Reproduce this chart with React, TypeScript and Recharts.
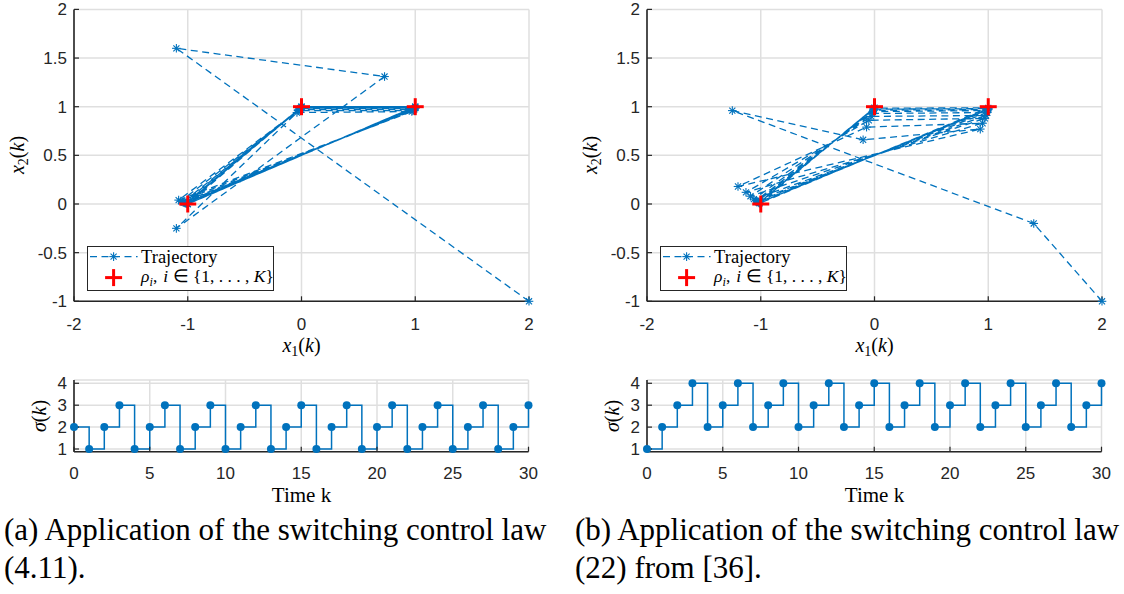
import React from 'react';
import { ScatterChart, Scatter, XAxis, YAxis, CartesianGrid, LineChart, Line } from 'recharts';

const BLUE = '#0072BD';
const RED = '#FF0000';
const FRAME = '#262626';
const GRID = '#dfdfdf';
const SERIF = '"Liberation Serif", "Times New Roman", serif';
const SANS = '"Liberation Sans", Arial, Helvetica, sans-serif';

// tick labels
const stateTicksX = [-2, -1, 0, 1, 2];
const stateTicksY = [-1, -0.5, 0, 0.5, 1, 1.5, 2];
const timeTicks = [0, 5, 10, 15, 20, 25, 30];
const modeTicks = [1, 2, 3, 4];

// (a) trajectory under control law (4.11)
const trajA_x1 = [2, -1.1, 0.73, -1.1, -0.04, 0.97, -1.08, -0.03, 0.98, -1.06, -0.02, 0.99, -1.04, -0.01, 0.99, -1.03, -0.01, 1, -1.02, 0, 1, -1.01, 0, 1, -1.01, 0, 1, -1, 0, 1, -1];
const trajA_x2 = [-1, 1.6, 1.31, -0.25, 0.94, 0.95, 0.04, 0.96, 0.96, 0.03, 0.97, 0.97, 0.02, 0.98, 0.98, 0.015, 0.985, 0.985, 0.01, 0.99, 0.99, 0.01, 0.99, 0.99, 0.005, 1, 1, 0, 1, 1, 0];

// (b) trajectory under control law (22) from [36]
const trajB_x1 = [2, 1.4, -1.25, -0.1, 0.93, -1.2, -0.07, 0.95, -1.13, -0.05, 0.97, -1.09, -0.03, 0.98, -1.06, -0.02, 0.99, -1.04, -0.015, 0.99, -1.03, -0.01, 1, -1.02, -0.007, 1, -1.015, -0.005, 1, -1.01, 0];
const trajB_x2 = [-1, -0.2, 0.96, 0.66, 0.77, 0.18, 0.79, 0.83, 0.12, 0.86, 0.88, 0.08, 0.9, 0.91, 0.05, 0.93, 0.94, 0.035, 0.95, 0.96, 0.025, 0.965, 0.97, 0.018, 0.975, 0.98, 0.012, 0.985, 0.988, 0.008, 0.99];

// reference points rho_i
const rhoX1 = [-1, 0, 1];
const rhoX2 = [0, 1, 1];

// switching signals sigma(k), k = 0..30
const sigmaA = [2, 1, 2, 3, 1, 2, 3, 1, 2, 3, 1, 2, 3, 1, 2, 3, 1, 2, 3, 1, 2, 3, 1, 2, 3, 1, 2, 3, 1, 2, 3];
const sigmaB = [1, 2, 3, 4, 2, 3, 4, 2, 3, 4, 2, 3, 4, 2, 3, 4, 2, 3, 4, 2, 3, 4, 2, 3, 4, 2, 3, 4, 2, 3, 4];

const toPoints = (xs: number[], ys: number[]) => xs.map((x, i) => ({ x, y: ys[i] }));
const toSteps = (s: number[]) => s.map((v, k) => ({ k, s: v }));

const tickStyle = { fill: FRAME, fontSize: 17, fontFamily: SANS };
const axisLineStyle = { stroke: FRAME, strokeWidth: 1.6 };
const tickLineStyle = { stroke: FRAME, strokeWidth: 1.2 };

const Asterisk = (props: any) => {
  const { cx, cy } = props;
  if (cx == null || cy == null) return null;
  const r = 4.3;
  const d = r * 0.7071;
  return (
    <g stroke={BLUE} strokeWidth={1.1}>
      <line x1={cx - r} y1={cy} x2={cx + r} y2={cy} />
      <line x1={cx} y1={cy - r} x2={cx} y2={cy + r} />
      <line x1={cx - d} y1={cy - d} x2={cx + d} y2={cy + d} />
      <line x1={cx - d} y1={cy + d} x2={cx + d} y2={cy - d} />
    </g>
  );
};

const Cross = (props: any) => {
  const { cx, cy } = props;
  if (cx == null || cy == null) return null;
  const r = 8.5;
  return (
    <g stroke={RED} strokeWidth={3}>
      <line x1={cx - r} y1={cy} x2={cx + r} y2={cy} />
      <line x1={cx} y1={cy - r} x2={cx} y2={cy + r} />
    </g>
  );
};

const StateChart = ({ xs, ys }: { xs: number[]; ys: number[] }) => (
  <ScatterChart width={545} height={345} margin={{ top: 9.4, right: 16, left: 0, bottom: 0 }}>
    <CartesianGrid stroke={GRID} strokeWidth={1.5} />
    <XAxis type="number" dataKey="x" domain={[-2, 2]} ticks={stateTicksX} interval={0} height={43.7}
      tickSize={-5} tickMargin={21.7} axisLine={axisLineStyle} tickLine={tickLineStyle} tick={tickStyle} />
    <XAxis xAxisId="top" orientation="top" type="number" domain={[-2, 2]} ticks={stateTicksX} interval={0}
      height={0} tickSize={-5} tick={false} allowDataOverflow axisLine={axisLineStyle} tickLine={tickLineStyle} />
    <YAxis type="number" dataKey="y" domain={[-1, 2]} ticks={stateTicksY} interval={0} width={74}
      tickSize={-5} tickMargin={12} axisLine={axisLineStyle} tickLine={tickLineStyle} tick={tickStyle} />
    <YAxis yAxisId="right" orientation="right" type="number" domain={[-1, 2]} ticks={stateTicksY} interval={0}
      width={0} tickSize={-5} tick={false} allowDataOverflow axisLine={axisLineStyle} tickLine={tickLineStyle} />
    <Scatter data={toPoints(xs, ys)} fill={BLUE} shape={Asterisk} lineType="joint"
      line={{ stroke: BLUE, strokeWidth: 1.3, strokeDasharray: '7 4.5', fill: 'none' }} isAnimationActive={false} />
    <Scatter data={toPoints(rhoX1, rhoX2)} fill={RED} shape={Cross} isAnimationActive={false} />
  </ScatterChart>
);

const ModeChart = ({ s }: { s: number[] }) => (
  <LineChart width={545} height={120} data={toSteps(s)} margin={{ top: 10, right: 16.5, left: 0, bottom: 0 }}>
    <CartesianGrid stroke={GRID} strokeWidth={1.5} />
    <XAxis type="number" dataKey="k" domain={[0, 30]} ticks={timeTicks} interval={0} height={38.3}
      tickSize={-5} tickMargin={20} axisLine={axisLineStyle} tickLine={tickLineStyle} tick={tickStyle} />
    <XAxis xAxisId="top" orientation="top" type="number" domain={[0, 30]} ticks={timeTicks} interval={0}
      height={0} tickSize={-5} tick={false} allowDataOverflow axisLine={axisLineStyle} tickLine={tickLineStyle} />
    <YAxis type="number" domain={[0.877, 4.15]} ticks={modeTicks} interval={0} width={74}
      tickSize={-5} tickMargin={12} axisLine={axisLineStyle} tickLine={tickLineStyle} tick={tickStyle} />
    <YAxis yAxisId="right" orientation="right" type="number" domain={[0.877, 4.15]} ticks={modeTicks} interval={0}
      width={0} tickSize={-5} tick={false} allowDataOverflow axisLine={axisLineStyle} tickLine={tickLineStyle} />
    <Line type="stepAfter" dataKey="s" stroke={BLUE} strokeWidth={1.5}
      dot={{ r: 4, fill: BLUE, stroke: BLUE, strokeWidth: 0 }} activeDot={false} isAnimationActive={false} />
  </LineChart>
);

const center = (left: number, top: number, rotate = false): React.CSSProperties => ({
  position: 'absolute', left, top, whiteSpace: 'nowrap', lineHeight: 1,
  transform: rotate ? 'translate(-50%, -50%) rotate(-90deg)' : 'translate(-50%, -50%)',
  fontFamily: SERIF, color: '#000',
});

const Sub = ({ children, italic = false }: { children: React.ReactNode; italic?: boolean }) => (
  <span style={{ fontSize: '0.7em', verticalAlign: '-0.3em', fontStyle: italic ? 'italic' : 'normal' }}>{children}</span>
);

const Legend = ({ left, top }: { left: number; top: number }) => (
  <div style={{ position: 'absolute', left, top, width: 187.3, height: 45, boxSizing: 'border-box',
    border: `1.6px solid ${FRAME}`, background: '#fff' }}>
    <svg width={187} height={45} style={{ position: 'absolute', left: -1.6, top: -1.6 }}>
      <line x1={4} y1={11.6} x2={51.6} y2={11.6} stroke={BLUE} strokeWidth={1.3} strokeDasharray="7 4.5" />
      <Asterisk cx={27.6} cy={11.6} />
      <Cross cx={27.6} cy={32.6} />
    </svg>
    <div style={{ position: 'absolute', left: 53.4, top: 11.6 - 1.6, transform: 'translateY(-50%)', fontFamily: SERIF,
      fontSize: 18.5, lineHeight: 1, whiteSpace: 'nowrap' }}>Trajectory</div>
    <div style={{ position: 'absolute', left: 53.4, top: 32.6 - 1.6, transform: 'translateY(-50%)', fontFamily: SERIF,
      fontSize: 17.5, lineHeight: 1, whiteSpace: 'nowrap' }}>
      <i>ρ</i><Sub italic>i</Sub>,<span style={{ marginLeft: 6 }} /><i>i</i> ∈ {'{'}1, . . . , <i>K</i>{'}'}
    </div>
  </div>
);

const Panel = ({ dx, xs, ys, s }: { dx: number; xs: number[]; ys: number[]; s: number[] }) => (
  <>
    <div style={{ position: 'absolute', left: dx, top: 0 }}>
      <StateChart xs={xs} ys={ys} />
    </div>
    <div style={{ position: 'absolute', left: dx, top: 370 }}>
      <ModeChart s={s} />
    </div>
    <Legend left={dx + 86.7} top={245.7} />
    <div style={{ ...center(dx + 301.5, 347), fontSize: 20 }}>
      <i>x</i><Sub>1</Sub>(<i>k</i>)
    </div>
    <div style={{ ...center(dx + 19, 155, true), fontSize: 20 }}>
      <i>x</i><Sub>2</Sub>(<i>k</i>)
    </div>
    <div style={{ ...center(dx + 39, 416, true), fontSize: 20 }}>
      <i>σ</i>(<i>k</i>)
    </div>
    <div style={{ ...center(dx + 301.5, 495), fontSize: 21 }}>Time k</div>
  </>
);

const captionStyle = (left: number): React.CSSProperties => ({
  position: 'absolute', left, top: 510.5, fontFamily: SERIF, fontSize: 31, lineHeight: '38px',
  whiteSpace: 'nowrap', color: '#000',
});

export default function App() {
  return (
    <div style={{ position: 'absolute', left: 0, top: 0, width: 1124, height: 594, background: '#fff', overflow: 'hidden' }}>
      <Panel dx={0} xs={trajA_x1} ys={trajA_x2} s={sigmaA} />
      <Panel dx={573} xs={trajB_x1} ys={trajB_x2} s={sigmaB} />
      <div style={captionStyle(4)}>
        (a) Application of the switching control law<br />(4.11).
      </div>
      <div style={captionStyle(575)}>
        (b) Application of the switching control law<br />(22) from [36].
      </div>
    </div>
  );
}
